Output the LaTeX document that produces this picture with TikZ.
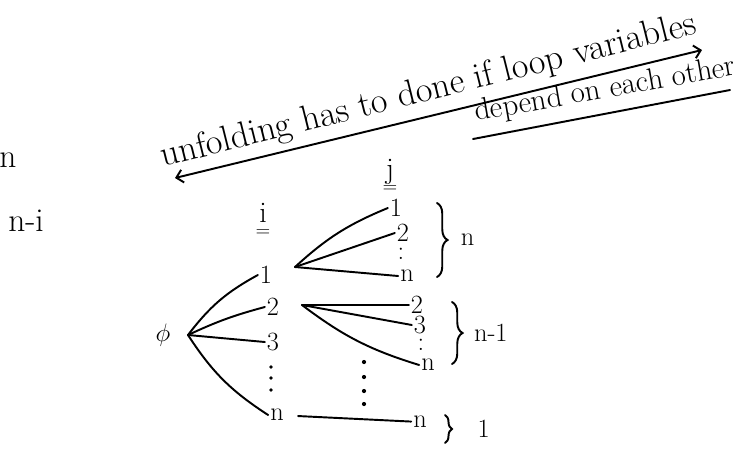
\documentclass[tikz,border=0pt]{standalone}
\usetikzlibrary{arrows.meta,positioning,decorations.pathreplacing}
\begin{document}
\begin{tikzpicture}[x=0.02cm,y=-0.02cm,
  ink/.style={line width=1.1pt,line cap=round},
  lbl/.style={font=\fontsize{15}{17}\selectfont,inner sep=1pt},
  hdr/.style={font=\fontsize{17}{17}\selectfont,inner sep=1pt,align=center},
  note/.style={inner sep=0pt,anchor=base west},
  grp/.style={ink,decorate,decoration={brace,amplitude=6pt}}
]
  \useasboundingbox (0,0) rectangle (747,451);
  % side counts
  \node[lbl,font=\fontsize{19}{21}\selectfont] (cnt1) at (8,160) {n};
  \node[lbl,font=\fontsize{19}{21}\selectfont] (cnt2) at (26,221) {n-i};
  % heading
  \node[note,rotate=14,font=\fontsize{20.5}{22}\selectfont] (ttl1) at (163,167) {unfolding has to done if loop variables};
  \node[note,rotate=10,font=\fontsize{17.5}{19}\selectfont] (ttl2) at (476,121) {depend on each other};
  \coordinate (ua) at (175,178);
  \coordinate (ub) at (702,50);
  \coordinate (uc) at (473,139);
  \coordinate (ud) at (730,90);
  \draw[ink,{Straight Barb[]}-{Straight Barb[]}] (ua) -- (ub);
  \draw[ink] (uc) -- (ud);
  % root and i level
  \node[lbl] (root) at (163,335) {$\phi$};
  \coordinate (r0) at (188,335);
  \node[hdr] (hi) at (263,220) {i\\[-9pt]{\fontsize{11}{11}\selectfont =}};
  \node[lbl] (i1) at (266,275) {1};
  \node[lbl] (i2) at (273,307) {2};
  \node[lbl] (i3) at (273,342) {3};
  \foreach \yy in {367,378,390}
    \fill (271,\yy) circle (1.1pt);
  \node[lbl] (in) at (277,415) {n};
  \draw[ink] (r0) to[bend left=12] (i1.west);
  \draw[ink] (r0) to[bend left=5] (i2.west);
  \draw[ink] (r0) -- (i3.west);
  \draw[ink] (r0) to[bend right=12] (in.west);
  % j level under i=1
  \node[hdr] (hj) at (390,176) {j\\[-9pt]{\fontsize{11}{11}\selectfont =}};
  \coordinate (a0) at (295,267);
  \node[lbl] (a1) at (396,208) {1};
  \node[lbl] (a2) at (403,233) {2};
  \node[lbl] (adots) at (401,254) {:};
  \node[lbl] (an) at (407,276) {n};
  \draw[ink] (a0) to[bend left=10] (a1.west);
  \draw[ink] (a0) -- (a2.west);
  \draw[ink] (a0) -- (an.west);
  % j level under i=2
  \coordinate (b0) at (302,305);
  \node[lbl] (b1) at (417,305) {2};
  \node[lbl] (b2) at (420,325) {3};
  \node[lbl] (bdots) at (421,345) {:};
  \node[lbl] (bn) at (428,365) {n};
  \draw[ink] (b0) -- (b1.west);
  \draw[ink] (b0) -- (b2.west);
  \draw[ink] (b0) to[bend right=10] (bn.west);
  % j level under i=n
  \foreach \yy in {362,377,391,404}
    \fill (364,\yy) circle (1.2pt);
  \node[lbl] (cn) at (420,422) {n};
  \draw[ink,shorten <=7pt] (in) -- (cn);
  % counts per group
  \draw[grp] (437,203) -- (437,277) node[lbl,midway,right=12pt] (ga) {n};
  \draw[grp] (452,302) -- (452,364) node[lbl,midway,right=11pt] (gb) {n-1};
  \draw[grp,decoration={amplitude=4pt}] (445,415) -- (445,443) node[lbl,midway,right=17pt] (gc) {1};
\end{tikzpicture}
\end{document}
